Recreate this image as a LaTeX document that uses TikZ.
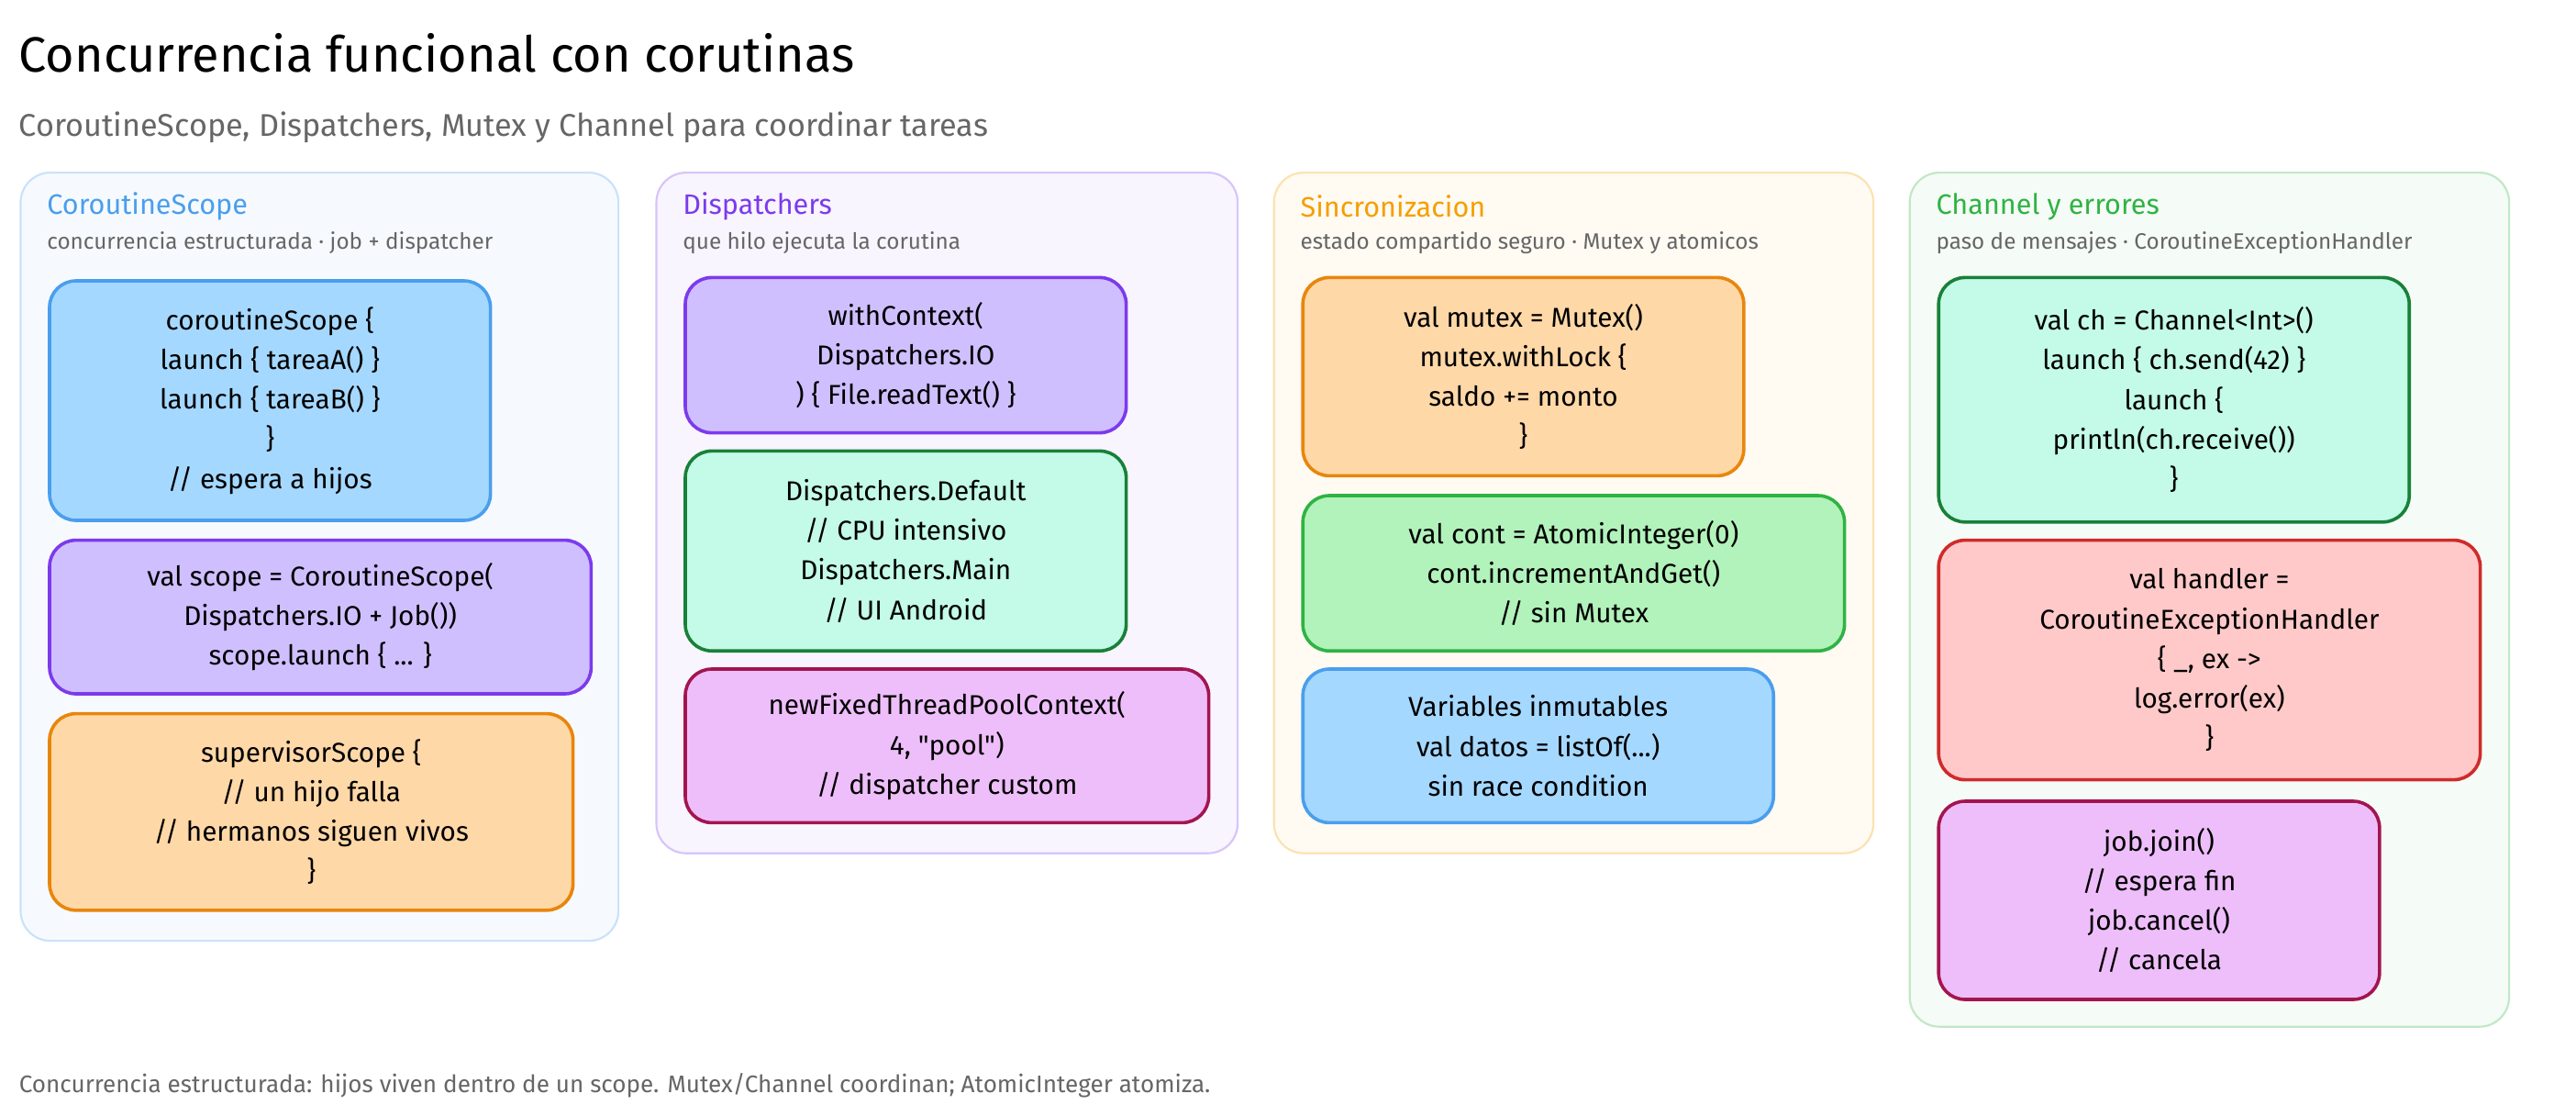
\documentclass[tikz,border=0pt]{standalone}
\usepackage{fontspec}
\setmainfont{Fira Sans}
\newfontfamily\plainq{Fira Sans}
\definecolor{bBlue}{HTML}{4A9EED}\definecolor{fBlue}{HTML}{A5D8FF}
\definecolor{bViol}{HTML}{7C3AED}\definecolor{fViol}{HTML}{D0BFFF}
\definecolor{bOrg}{HTML}{E8860C}\definecolor{fOrg}{HTML}{FFD8A8}
\definecolor{bDG}{HTML}{198038}\definecolor{fTeal}{HTML}{C3FAE8}
\definecolor{bGr}{HTML}{2FB344}\definecolor{fGr}{HTML}{B2F2BB}
\definecolor{bPink}{HTML}{A3154F}\definecolor{fPink}{HTML}{EEBEFA}
\definecolor{bRed}{HTML}{D02A2A}\definecolor{fRed}{HTML}{FFC9C9}
\definecolor{hYel}{HTML}{F59F00}
\begin{document}
\begin{tikzpicture}[x=1pt,y=1pt,
 panel/.style={draw=#1!30,fill=#1!5,line width=1.2pt,rounded corners=18pt,outer sep=0pt,inner sep=0pt},
 cbox/.style n args={3}{draw=#1,fill=#2,line width=2pt,rounded corners=16pt,align=center,font=\fontsize{16.5}{24}\selectfont,minimum width=#3,outer sep=0pt},
 htitle/.style={anchor=west,font=\fontsize{17}{20}\selectfont},
 hsub/.style={anchor=west,text=black!60,font=\fontsize{13.5}{16}\selectfont}]
\useasboundingbox[fill=white] (0,0) rectangle (1560,-675);
\node[anchor=west,font=\fontsize{30}{34}\selectfont] (title) at (8,-32) {Concurrencia funcional con corutinas};
\node[anchor=west,text=black!60,font=\fontsize{19}{22}\selectfont] (sub) at (8,-77) {CoroutineScope, Dispatchers, Mutex y Channel para coordinar tareas};
% panels
\node[panel=bBlue,minimum width=362,minimum height=465] (p1) at (193.5,-337) {};
\node[panel=bViol,minimum width=352,minimum height=412] (p2) at (573.5,-310.5) {};
\node[panel=hYel,minimum width=363,minimum height=412] (p3) at (953,-310.5) {};
\node[panel=bGr,minimum width=363,minimum height=517] (p4) at (1338,-363) {};
\node[htitle,text=bBlue] (h1) at (25,-125) {CoroutineScope};
\node[hsub] (s1) at (25,-147) {concurrencia estructurada · job + dispatcher};
\node[htitle,text=bViol] (h2) at (410,-125) {Dispatchers};
\node[hsub] (s2) at (410,-147) {que hilo ejecuta la corutina};
\node[htitle,text=hYel] (h3) at (784,-125) {Sincronizacion};
\node[hsub] (s3) at (784,-147) {estado compartido seguro · Mutex y atomicos};
\node[htitle,text=bGr] (h4) at (1169,-125) {Channel y errores};
\node[hsub] (s4) at (1169,-147) {paso de mensajes · CoroutineExceptionHandler};
% panel 1
\node[cbox={bBlue}{fBlue}{267},minimum height=145] (a1) at (163.5,-242.5) {coroutineScope \{\\launch \{ tareaA() \}\\launch \{ tareaB() \}\\\}\\// espera a hijos};
\node[cbox={bViol}{fViol}{328},minimum height=93] (a2) at (194,-373.5) {val scope = CoroutineScope(\\Dispatchers.IO + Job())\\scope.launch \{ ... \}};
\node[cbox={bOrg}{fOrg}{317},minimum height=119] (a3) at (188.5,-491.5) {supervisorScope \{\\// un hijo falla\\// hermanos siguen vivos\\\}};
% panel 2
\node[cbox={bViol}{fViol}{267},minimum height=94] (b1) at (548.5,-215) {withContext(\\Dispatchers.IO\\) \{ File.readText() \}};
\node[cbox={bDG}{fTeal}{267},minimum height=121] (b2) at (548.5,-333.5) {Dispatchers.Default\\// CPU intensivo\\Dispatchers.Main\\// UI Android};
\node[cbox={bPink}{fPink}{317},minimum height=93] (b3) at (573.5,-451.5) {newFixedThreadPoolContext(\\4, {\plainq"pool"})\\// dispatcher custom};
% panel 3
\node[cbox={bOrg}{fOrg}{267},minimum height=120] (c1) at (922.5,-228) {val mutex = Mutex()\\mutex.withLock \{\\saldo += monto\\\}};
\node[cbox={bGr}{fGr}{328},minimum height=94] (c2) at (953,-347) {val cont = AtomicInteger(0)\\cont.incrementAndGet()\\// sin Mutex};
\node[cbox={bBlue}{fBlue}{285},minimum height=93] (c3) at (931.5,-451.5) {Variables inmutables\\val datos = listOf(...)\\sin race condition};
% panel 4
\node[cbox={bDG}{fTeal}{285},minimum height=148] (d1) at (1316.5,-242) {val ch = Channel<Int>()\\launch \{ ch.send(42) \}\\launch \{\\println(ch.receive())\\\}};
\node[cbox={bRed}{fRed}{328},minimum height=145] (d2) at (1338,-399.5) {val handler =\\CoroutineExceptionHandler\\\{ \_, ex ->\\log.error(ex)\\\}};
\node[cbox={bPink}{fPink}{267},minimum height=120] (d3) at (1307.5,-545) {job.join()\\// espera fin\\job.cancel()\\// cancela};
\node[anchor=west,text=black!60,font=\fontsize{14.5}{17}\selectfont] (foot) at (8,-657) {Concurrencia estructurada: hijos viven dentro de un scope. Mutex/Channel coordinan; AtomicInteger atomiza.};
\end{tikzpicture}
\end{document}
